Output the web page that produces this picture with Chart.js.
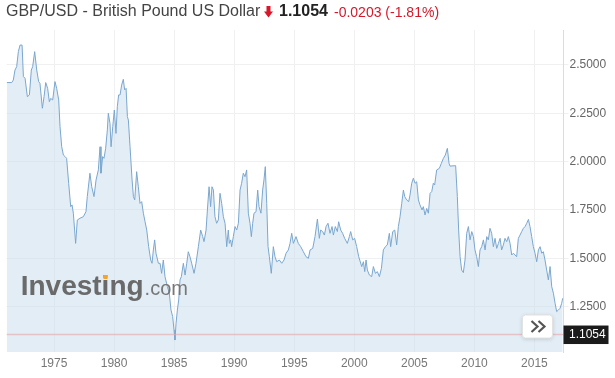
<!DOCTYPE html>
<html>
<head>
<meta charset="utf-8">
<title>GBP/USD - British Pound US Dollar</title>
<script src="https://cdn.jsdelivr.net/npm/chart.js@4.4.1/dist/chart.umd.min.js"></script>
<style>
  body { margin: 0; background: #fff; }
  #wrap { position: relative; width: 615px; height: 378px; overflow: hidden; font-family: 'Liberation Sans', Arial, sans-serif; }
  .hdr { position: absolute; top: 1px; line-height: 20px; white-space: nowrap; z-index: 2; }
  #name { left: 6px; font-size: 16px; color: #444; }
  #arrow { position: absolute; left: 264px; top: 6px; z-index: 2; }
  #last { left: 279px; font-size: 16px; font-weight: bold; color: #222; }
  #chg { left: 334px; top: 2px; font-size: 14px; color: #d6182a; }
  canvas { position: absolute; left: 0; top: 0; }
</style>
</head>
<body>
<div id="wrap">
  <span class="hdr" id="name">GBP/USD - British Pound US Dollar</span>
  <svg id="arrow" width="9" height="12" viewBox="0 0 9 12"><polygon points="2.5,0 6.5,0 6.5,5.5 9,5.5 4.5,11.5 0,5.5 2.5,5.5" fill="#d6182a"/></svg>
  <span class="hdr" id="last">1.1054</span>
  <span class="hdr" id="chg">-0.0203 (-1.81%)</span>
  <canvas id="fxChart" width="615" height="378"></canvas>
</div>
<script>
// monthly-ish closes, decimal years
const years = [
  1971.06, 1971.48, 1971.61, 1971.75, 1971.89, 1972.03, 1972.17, 1972.34, 1972.45, 1972.59,
  1972.78, 1972.95, 1973.11, 1973.22, 1973.39, 1973.56, 1973.72, 1973.83, 1974.03, 1974.17,
  1974.31, 1974.47, 1974.61, 1974.72, 1974.89, 1975.08, 1975.22, 1975.39, 1975.50, 1975.64,
  1975.78, 1975.92, 1976.05, 1976.22, 1976.39, 1976.50, 1976.61, 1976.80, 1976.94, 1977.16,
  1977.44, 1977.66, 1977.77, 1977.99,
  1978.14, 1978.33, 1978.50, 1978.69, 1978.83, 1978.91, 1979.05, 1979.16, 1979.30, 1979.44,
  1979.52, 1979.66, 1979.75, 1979.89, 1980.02, 1980.16, 1980.27, 1980.38, 1980.50, 1980.63,
  1980.77, 1980.88, 1981.00, 1981.11, 1981.19, 1981.33, 1981.50, 1981.61, 1981.72, 1981.88,
  1982.02, 1982.16, 1982.30, 1982.44, 1982.58, 1982.72, 1982.88, 1983.05, 1983.16, 1983.27,
  1983.38, 1983.49, 1983.69, 1983.83, 1983.96, 1984.10, 1984.24, 1984.44, 1984.60, 1984.74,
  1984.88, 1984.99, 1985.07, 1985.16, 1985.27, 1985.38, 1985.49, 1985.60,
  1985.77, 1985.91, 1986.05, 1986.18, 1986.32, 1986.46, 1986.66, 1986.82, 1987.02, 1987.21,
  1987.38, 1987.49, 1987.66, 1987.77, 1987.91, 1988.04, 1988.15, 1988.27, 1988.40, 1988.54,
  1988.68, 1988.82, 1988.96, 1989.10, 1989.24, 1989.38, 1989.51, 1989.60, 1989.71, 1989.79,
  1989.93, 1990.07, 1990.21, 1990.35, 1990.49, 1990.62, 1990.76, 1990.90, 1991.04, 1991.18,
  1991.32, 1991.43, 1991.54, 1991.65, 1991.82, 1991.96, 1992.07, 1992.23, 1992.37, 1992.48,
  1992.59, 1992.71, 1992.82, 1992.93, 1993.09,
  1993.26, 1993.40, 1993.54, 1993.76, 1993.96, 1994.15, 1994.32, 1994.51, 1994.65, 1994.79,
  1994.93, 1995.15, 1995.34, 1995.54, 1995.76, 1995.98, 1996.18, 1996.32, 1996.54, 1996.73,
  1996.93, 1997.09, 1997.20, 1997.37, 1997.51, 1997.65, 1997.81, 1997.98, 1998.15, 1998.26,
  1998.42, 1998.59, 1998.70, 1998.87, 1999.03, 1999.20, 1999.42, 1999.59, 1999.70, 1999.87,
  2000.03, 2000.20, 2000.37,
  2000.62, 2000.76, 2000.87, 2000.98, 2001.09, 2001.26, 2001.45, 2001.59, 2001.76, 2001.92,
  2002.09, 2002.26, 2002.42, 2002.59, 2002.75, 2002.92, 2003.03, 2003.20, 2003.37, 2003.53,
  2003.67, 2003.81, 2003.95, 2004.09, 2004.20, 2004.36, 2004.53, 2004.64, 2004.78, 2004.92,
  2005.06, 2005.20, 2005.34, 2005.47, 2005.64, 2005.75, 2005.89, 2006.03, 2006.17, 2006.31,
  2006.45, 2006.58, 2006.69, 2006.86, 2007.08, 2007.25, 2007.42, 2007.58, 2007.75, 2007.89,
  2007.97,
  2008.44, 2008.58, 2008.69, 2008.81, 2008.94, 2009.08, 2009.22, 2009.36, 2009.50, 2009.64,
  2009.78, 2009.92, 2010.05, 2010.19, 2010.33, 2010.47, 2010.61, 2010.75, 2010.89, 2011.03,
  2011.16, 2011.30, 2011.44, 2011.58, 2011.72, 2011.86, 2012.00, 2012.14, 2012.27, 2012.41,
  2012.55, 2012.69, 2012.83, 2012.97, 2013.11, 2013.25, 2013.38, 2013.52, 2013.66, 2013.80,
  2013.94, 2014.08, 2014.22, 2014.36, 2014.50, 2014.63, 2014.77, 2014.91, 2015.05, 2015.19,
  2015.33, 2015.47, 2015.61, 2015.74, 2015.88, 2016.02, 2016.16, 2016.30, 2016.44, 2016.58,
  2016.72, 2016.85, 2016.99, 2017.13, 2017.27, 2017.35
];

const rates = [
  2.409, 2.409, 2.422, 2.474, 2.491, 2.569, 2.603, 2.603, 2.440, 2.431,
  2.336, 2.345, 2.474, 2.491, 2.569, 2.474, 2.414, 2.405, 2.276, 2.336,
  2.409, 2.379, 2.310, 2.327, 2.319, 2.414, 2.379, 2.319, 2.181, 2.077,
  2.034, 2.026, 2.017, 1.888, 1.767, 1.776, 1.733, 1.577, 1.698, 1.707,
  1.715, 1.741, 1.819, 1.940,
  1.870, 1.819, 1.905, 1.957, 2.077, 1.940, 2.026, 2.017, 2.069, 2.164,
  2.250, 2.198, 2.077, 2.181, 2.267, 2.146, 2.284, 2.345, 2.345, 2.396,
  2.426, 2.371, 2.379, 2.233, 2.215, 2.077, 1.905, 1.819, 1.802, 1.948,
  1.870, 1.784, 1.793, 1.733, 1.689, 1.646, 1.560, 1.491, 1.474, 1.543,
  1.595, 1.526, 1.474, 1.474, 1.422, 1.491, 1.405, 1.353, 1.319, 1.232,
  1.198, 1.129, 1.077, 1.163, 1.232, 1.284, 1.388, 1.405,
  1.474, 1.413, 1.474, 1.534, 1.508, 1.474, 1.422, 1.474, 1.560, 1.646,
  1.612, 1.586, 1.646, 1.750, 1.870, 1.767, 1.870, 1.853, 1.715, 1.681,
  1.698, 1.836, 1.784, 1.715, 1.681, 1.560, 1.646, 1.577, 1.595, 1.560,
  1.612, 1.664, 1.646, 1.681, 1.853, 1.888, 1.940, 1.922, 1.957, 1.733,
  1.681, 1.612, 1.681, 1.733, 1.741, 1.853, 1.767, 1.733, 1.853, 1.905,
  1.974, 1.784, 1.560, 1.508, 1.422,
  1.560, 1.508, 1.482, 1.491, 1.474, 1.491, 1.526, 1.543, 1.577, 1.629,
  1.577, 1.612, 1.577, 1.560, 1.534, 1.508, 1.500, 1.543, 1.551, 1.612,
  1.703, 1.603, 1.646, 1.638, 1.620, 1.664, 1.681, 1.629, 1.664, 1.620,
  1.664, 1.638, 1.689, 1.646, 1.629, 1.603, 1.577, 1.612, 1.638, 1.595,
  1.603, 1.560, 1.508,
  1.457, 1.482, 1.431, 1.491, 1.439, 1.413, 1.405, 1.457, 1.422, 1.431,
  1.405, 1.448, 1.543, 1.560, 1.569, 1.629, 1.560, 1.638, 1.646, 1.569,
  1.664, 1.715, 1.784, 1.853, 1.819, 1.802, 1.793, 1.827, 1.888, 1.914,
  1.888, 1.896, 1.802, 1.776, 1.750, 1.767, 1.724, 1.758, 1.733, 1.836,
  1.845, 1.888, 1.879, 1.957, 1.965, 1.991, 2.017, 2.034, 2.069, 1.991,
  1.977,
  1.979, 1.819, 1.646, 1.508, 1.439, 1.426, 1.491, 1.629, 1.664, 1.595,
  1.638, 1.612, 1.543, 1.508, 1.457, 1.543, 1.560, 1.595, 1.543, 1.612,
  1.595, 1.655, 1.629, 1.560, 1.603, 1.551, 1.577, 1.603, 1.543, 1.569,
  1.603, 1.586, 1.612, 1.577, 1.517, 1.526, 1.517, 1.508, 1.603, 1.620,
  1.638, 1.655, 1.664, 1.681, 1.701, 1.664, 1.612, 1.560, 1.526, 1.482,
  1.543, 1.560, 1.526, 1.534, 1.491, 1.439, 1.388, 1.457, 1.353, 1.319,
  1.267, 1.224, 1.232, 1.241, 1.267, 1.293
];

const yearTicks = [1975, 1980, 1985, 1990, 1995, 2000, 2005, 2010, 2015];
const rateTicks = [1.25, 1.5, 1.75, 2.0, 2.25, 2.5];
const lastPrice = 1.1054;

const FONT = "'Liberation Sans', Arial, sans-serif";

// "Investing.com" watermark, drawn over the fill
const watermark = {
    id: 'watermark',
    afterDatasetsDraw: function(chart) {
        var ctx = chart.ctx;
        var x = chart.chartArea.left + 14;
        var base = chart.chartArea.bottom - 57;
        ctx.save();
        ctx.textBaseline = 'alphabetic';
        ctx.font = 'bold 28px ' + FONT;
        ctx.fillStyle = '#6a6a6a';
        ctx.fillText('Investing', x, base);
        var w = ctx.measureText('Investing').width;
        // orange dot on the second i
        var dx = x + ctx.measureText('Invest').width;
        ctx.fillStyle = '#f2a52a';
        ctx.fillRect(dx + 1.9, base - 20, 4, 4);
        ctx.font = '20px ' + FONT;
        ctx.fillStyle = '#777';
        ctx.fillText('.com', x + w + 1, base);
        ctx.restore();
    }
};

// last price line + black label on the axis + the scroll button
const priceLine = {
    id: 'priceLine',
    afterDatasetsDraw: function(chart) {
        var ctx = chart.ctx;
        var area = chart.chartArea;
        var y = chart.scales.y.getPixelForValue(lastPrice);
        ctx.save();
        ctx.strokeStyle = 'rgba(226,165,170,0.6)';
        ctx.lineWidth = 1.5;
        ctx.beginPath();
        ctx.moveTo(area.left, y);
        ctx.lineTo(area.right, y);
        ctx.stroke();
        ctx.restore();
    },
    afterDraw: function(chart) {
        var ctx = chart.ctx;
        var area = chart.chartArea;
        var y = chart.scales.y.getPixelForValue(lastPrice);
        ctx.save();
        ctx.fillStyle = '#1b1b1b';
        ctx.fillRect(area.right, y - 9, 45, 18.5);
        ctx.fillStyle = '#fff';
        ctx.font = '12px ' + FONT;
        ctx.textBaseline = 'middle';
        ctx.fillText(lastPrice.toFixed(4), area.right + 5.5, y + 0.5);

        // the >> button
        var bx = area.right - 41, by = area.bottom - 37, bw = 30, bh = 23;
        ctx.shadowColor = 'rgba(0,0,0,0.18)';
        ctx.shadowBlur = 4;
        ctx.shadowOffsetY = 1;
        ctx.fillStyle = '#fff';
        ctx.beginPath();
        ctx.roundRect(bx, by, bw, bh, 3);
        ctx.fill();
        ctx.shadowColor = 'transparent';
        ctx.strokeStyle = '#e2e2e2';
        ctx.lineWidth = 1;
        ctx.stroke();
        ctx.strokeStyle = '#555';
        ctx.lineWidth = 2.2;
        ctx.beginPath();
        ctx.moveTo(bx + 9, by + 6); ctx.lineTo(bx + 15, by + 11.5); ctx.lineTo(bx + 9, by + 17);
        ctx.moveTo(bx + 16, by + 6); ctx.lineTo(bx + 22, by + 11.5); ctx.lineTo(bx + 16, by + 17);
        ctx.stroke();
        ctx.restore();
    }
};

document.addEventListener('DOMContentLoaded', function() {
    var ctx = document.getElementById('fxChart').getContext('2d');
    new Chart(ctx, {
        type: 'line',
        data: {
            datasets: [{
                data: years.map(function(t, i) { return { x: t, y: rates[i] }; }),
                borderColor: '#7ba7cf',
                borderWidth: 1,
                backgroundColor: 'rgba(200,220,238,0.5)',
                fill: 'start',
                pointRadius: 0,
                tension: 0
            }]
        },
        options: {
            responsive: false,
            animation: false,
            devicePixelRatio: 1,
            layout: { padding: { left: 6.7, top: 30, right: 0, bottom: 0 } },
            plugins: {
                legend: { display: false },
                tooltip: { enabled: false }
            },
            scales: {
                x: {
                    type: 'linear',
                    min: 1971.06,
                    max: 2017.42,
                    afterBuildTicks: function(scale) {
                        scale.ticks = yearTicks.map(function(v) { return { value: v }; });
                    },
                    afterFit: function(scale) { scale.height = 26; },
                    grid: { color: '#f0f0f0', drawTicks: false },
                    border: { display: false },
                    ticks: {
                        padding: 4,
                        color: '#777',
                        font: { family: FONT, size: 12 },
                        maxRotation: 0,
                        autoSkip: false,
                        callback: function(v) { return String(v); }
                    }
                },
                y: {
                    position: 'right',
                    min: 1.015,
                    max: 2.681,
                    afterBuildTicks: function(scale) {
                        scale.ticks = rateTicks.map(function(v) { return { value: v }; });
                    },
                    afterFit: function(scale) { scale.width = 51.5; },
                    grid: { color: '#f0f0f0', tickLength: 5 },
                    border: { color: '#dcdcdc' },
                    ticks: {
                        padding: 1,
                        color: '#666',
                        font: { family: FONT, size: 12 },
                        callback: function(v) { return v.toFixed(4); }
                    }
                }
            }
        },
        plugins: [watermark, priceLine]
    });
});
</script>
</body>
</html>
